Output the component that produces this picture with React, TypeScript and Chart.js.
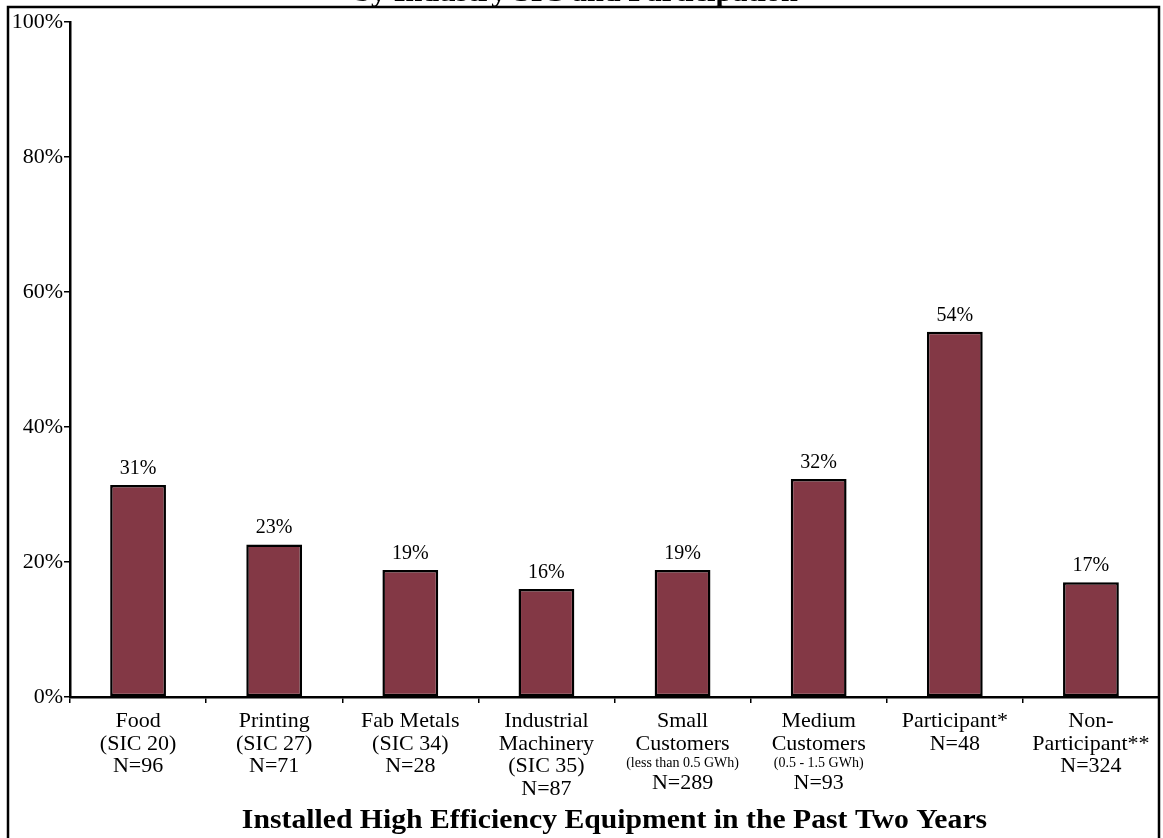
import React, { useEffect, useRef } from "react";
import { Chart, registerables } from "chart.js";

Chart.register(...registerables);

const categoryLines: string[][] = [
  ["Food", "(SIC 20)", "N=96"],
  ["Printing", "(SIC 27)", "N=71"],
  ["Fab Metals", "(SIC 34)", "N=28"],
  ["Industrial", "Machinery", "(SIC 35)", "N=87"],
  ["Small", "Customers", "(less than 0.5 GWh)", "N=289"],
  ["Medium", "Customers", "(0.5 - 1.5 GWh)", "N=93"],
  ["Participant*", "N=48"],
  ["Non-", "Participant**", "N=324"],
];
const smallLines: string[] = ["(less than 0.5 GWh)", "(0.5 - 1.5 GWh)"];
const values: number[] = [31.4, 22.6, 18.8, 16.0, 18.8, 32.3, 54.1, 17.0];
const valueLabels: string[] = ["31%", "23%", "19%", "16%", "19%", "32%", "54%", "17%"];
const yTicks: number[] = [0, 20, 40, 60, 80, 100];
const topTitle = "by Industry SIC and Participation";
const xTitle = "Installed High Efficiency Equipment in the Past Two Years";

const SERIF = "'Liberation Serif', 'Times New Roman', serif";

const drawPlugin = {
  id: "customDraw",
  afterDraw(chart: any) {
    const ctx = chart.ctx;
    const xScale = chart.scales.x;
    const area = chart.chartArea;
    ctx.save();
    ctx.fillStyle = "#000";
    // data labels
    const meta = chart.getDatasetMeta(0);
    ctx.font = `20px ${SERIF}`;
    ctx.textAlign = "center";
    ctx.textBaseline = "alphabetic";
    meta.data.forEach((bar: any, i: number) => {
      ctx.fillText(valueLabels[i], bar.x, bar.y - 11);
    });
    // category labels
    categoryLines.forEach((lines, i) => {
      const x = xScale.getPixelForValue(i);
      let y = 727;
      let prevSmall = false;
      lines.forEach((line, j) => {
        const small = smallLines.includes(line);
        if (j > 0) y += small ? 17 : prevSmall ? 22 : 22.5;
        ctx.font = small ? `14px ${SERIF}` : `22px ${SERIF}`;
        ctx.fillText(line, x, y);
        prevSmall = small;
      });
    });
    // x axis title
    ctx.font = `bold 27px ${SERIF}`;
    const cx = (area.left + area.right) / 2;
    ctx.save();
    ctx.translate(cx, 828);
    ctx.scale(1.1, 1);
    ctx.fillText(xTitle, 0, 0);
    ctx.restore();
    // top title (clipped by the page top)
    ctx.save();
    ctx.translate(576, 1);
    ctx.scale(1.12, 1);
    ctx.fillText(topTitle, 0, 0);
    ctx.restore();
    // frame
    ctx.strokeStyle = "#000";
    ctx.lineWidth = 2.5;
    ctx.beginPath();
    ctx.moveTo(8, 840);
    ctx.lineTo(8, 7);
    ctx.lineTo(1159, 7);
    ctx.lineTo(1159, 840);
    ctx.stroke();
    ctx.restore();
  },
};

export default function App() {
  const ref = useRef<HTMLCanvasElement | null>(null);
  useEffect(() => {
    if (!ref.current) return;
    const chart = new Chart(ref.current, {
      type: "bar",
      data: {
        labels: categoryLines.map((l) => l.join(" ")),
        datasets: [
          {
            data: values,
            backgroundColor: "#833845",
            borderColor: "#000",
            borderWidth: 2.5,
            borderSkipped: false,
            barPercentage: 0.41,
            categoryPercentage: 1,
          },
        ],
      },
      options: {
        animation: false,
        responsive: false,
        maintainAspectRatio: false,
        layout: { padding: { top: 22, right: 4, bottom: 0, left: 0 } },
        plugins: {
          legend: { display: false },
          tooltip: { enabled: false },
          title: { display: false },
        },
        scales: {
          x: {
            type: "category",
            offset: true,
            grid: {
              display: true,
              offset: true,
              drawOnChartArea: false,
              drawTicks: true,
              tickLength: 6,
              color: "#000",
              lineWidth: 1.5,
            },
            border: { display: true, color: "#000", width: 2.5 },
            ticks: { display: false },
            afterFit: (scale: any) => {
              scale.height = 141;
            },
          },
          y: {
            min: 0,
            max: 100,
            afterBuildTicks: (scale: any) => {
              scale.ticks = yTicks.map((v) => ({ value: v }));
            },
            grid: {
              display: true,
              drawOnChartArea: false,
              drawTicks: true,
              tickLength: 6,
              color: "#000",
              lineWidth: 1.5,
            },
            border: { display: true, color: "#000", width: 2.5 },
            ticks: {
              color: "#000",
              padding: 1,
              font: { family: SERIF, size: 22 },
              callback: (v: any) => `${v}%`,
            },
            afterFit: (scale: any) => {
              scale.width = 70;
            },
          },
        },
      },
      plugins: [drawPlugin],
    });
    return () => chart.destroy();
  }, []);
  return (
    <div
      style={{
        position: "fixed",
        left: 0,
        top: 0,
        width: 1163,
        height: 838,
        background: "#fff",
        overflow: "hidden",
      }}
    >
      <canvas ref={ref} width={1163} height={838} style={{ display: "block" }} />
    </div>
  );
}
